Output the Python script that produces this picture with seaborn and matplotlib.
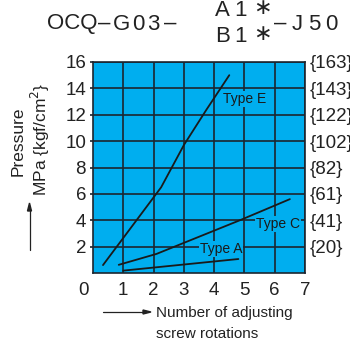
import pandas as pd
import seaborn as sns
import matplotlib.pyplot as plt

# values
type_e_rot = [0.33, 2.25, 3.0, 3.75, 4.5]
type_e_mpa = [0.6, 6.5, 9.7, 12.4, 15.0]
type_c_rot = [0.85, 2.1, 4.85, 6.5]
type_c_mpa = [0.62, 1.45, 4.0, 5.6]
type_a_rot = [1.0, 4.8]
type_a_mpa = [0.18, 1.06]

x_ticks = [1, 2, 3, 4, 5, 6, 7]
y_ticks = [2, 4, 6, 8, 10, 12, 14, 16]
kgf_labels = ['{20}', '{41}', '{61}', '{82}', '{102}', '{122}', '{143}', '{163}']

bg = '#00aeef'
dark = '#1c2630'
ink = '#222222'

sns.set_style('white', {'axes.facecolor': bg, 'axes.edgecolor': dark})
plt.rcParams['font.family'] = ['Liberation Sans', 'DejaVu Sans']

df = pd.concat([
    pd.DataFrame({'rot': type_e_rot, 'mpa': type_e_mpa, 'type': 'Type E'}),
    pd.DataFrame({'rot': type_c_rot, 'mpa': type_c_mpa, 'type': 'Type C'}),
    pd.DataFrame({'rot': type_a_rot, 'mpa': type_a_mpa, 'type': 'Type A'}),
])

fig = plt.figure(figsize=(3.5, 3.49), dpi=100)
ax = fig.add_axes([93/350, 76/349, 212/350, 211/349])

sns.lineplot(data=df, x='rot', y='mpa', hue='type', sort=False, estimator=None,
             palette={'Type E': '#1a1a1a', 'Type C': '#1a1a1a', 'Type A': '#1a1a1a'},
             linewidth=1.3, legend=False, ax=ax, zorder=3)

ax.set_xlim(0, 7)
ax.set_ylim(0, 16)
ax.set_xticks(x_ticks)
ax.set_yticks(y_ticks)
ax.grid(True, color=dark, linewidth=1.2)
ax.set_axisbelow(True)
for s in ax.spines.values():
    s.set_linewidth(1.2)
ax.tick_params(axis='x', length=0, pad=6.5, labelsize=13.5, colors=ink)
ax.tick_params(axis='y', length=2.5, width=1.2, color=dark, pad=2.5, labelsize=13.5, labelcolor=ink)
ax.set_xlabel('')
ax.set_ylabel('')

# origin label sits below-left of the corner
ax.annotate('0', xy=(0, 0), xytext=(-6.5, -6.5), textcoords='offset points',
            ha='center', va='top', fontsize=13.5, color=ink, annotation_clip=False)

# right hand kgf/cm2 scale (cut by the image edge, as in the original)
ax2 = ax.twinx()
ax2.set_ylim(0, 16)
ax2.set_yticks(y_ticks)
ax2.set_yticklabels(kgf_labels)
ax2.tick_params(axis='y', length=0, pad=3.5, labelsize=13.5, labelcolor=ink)
ax2.grid(False)
for s in ax2.spines.values():
    s.set_visible(False)

# curve labels
lab_box = dict(facecolor=bg, edgecolor='none', pad=0.6)
ax.text(5.02, 13.2, 'Type E', ha='center', va='center', fontsize=10, color='#1a1a1a', bbox=lab_box, zorder=4)
ax.text(6.1, 3.7, 'Type C', ha='center', va='center', fontsize=10, color='#1a1a1a', bbox=lab_box, zorder=4)
ax.text(4.24, 1.8, 'Type A', ha='center', va='center', fontsize=10, color='#1a1a1a', bbox=lab_box, zorder=4)

# axis titles with arrows
fig.text(18/350, 1 - 141/349, 'Pressure', rotation=90, ha='center', va='center', fontsize=12.5, color=ink)
fig.text(40/350, 1 - 139/349, 'MPa {kgf/cm$^2$}', rotation=90, ha='center', va='center', fontsize=12.5, color=ink)
fig.add_artist(plt.Line2D([29.5/350, 29.5/350], [1 - 250/349, 1 - 210/349], color=ink, lw=0.9))
fig.patches.append(plt.Polygon([[27.5/350, 1 - 211/349], [31.5/350, 1 - 211/349], [29.5/350, 1 - 203/349]],
                               closed=True, color=ink, transform=fig.transFigure, figure=fig))

fig.add_artist(plt.Line2D([103/350, 144/350], [1 - 312/349, 1 - 312/349], color=ink, lw=0.9))
fig.patches.append(plt.Polygon([[143/350, 1 - 310/349], [143/350, 1 - 314/349], [151/350, 1 - 312/349]],
                               closed=True, color=ink, transform=fig.transFigure, figure=fig))
fig.text(156/350, 1 - 313/349, 'Number of adjusting', ha='left', va='center', fontsize=11, color=ink)
fig.text(156/350, 1 - 334/349, 'screw rotations', ha='left', va='center', fontsize=11, color=ink)

# model code header, spaced out glyph by glyph
hdr = dict(ha='center', va='center', fontsize=16, color=ink)
fig.text(72.5/350, 1 - 24/349, 'OCQ', **hdr)
fig.text(104.5/350, 1 - 23/349, '–', **hdr)
fig.text(121.5/350, 1 - 24/349, 'G', **hdr)
fig.text(138/350, 1 - 24/349, '0', **hdr)
fig.text(153/350, 1 - 24/349, '3', **hdr)
fig.text(170.5/350, 1 - 23/349, '–', **hdr)
fig.text(222/350, 1 - 11/349, 'A', **hdr)
fig.text(241/350, 1 - 11/349, '1', **hdr)
fig.text(262/350, 1 - 9/349, '∗', **hdr)
fig.text(223/350, 1 - 37/349, 'B', **hdr)
fig.text(241/350, 1 - 37/349, '1', **hdr)
fig.text(262/350, 1 - 35/349, '∗', **hdr)
fig.text(280/350, 1 - 23/349, '–', **hdr)
fig.text(297.5/350, 1 - 24/349, 'J', **hdr)
fig.text(314/350, 1 - 24/349, '5', **hdr)
fig.text(331/350, 1 - 24/349, '0', **hdr)

fig.savefig('out.png', dpi=100, facecolor='white')
